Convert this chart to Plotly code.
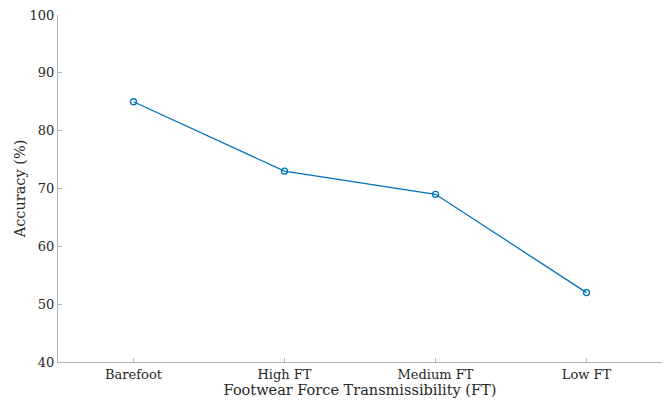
import plotly.graph_objects as go

# Accuracy per footwear condition
conditions = ["Barefoot", "High FT", "Medium FT", "Low FT"]
accuracy = [85, 73, 69, 52]

y_ticks = [40, 50, 60, 70, 80, 90, 100]

line_color = "#0072BD"
axis_color = "#b3b3b3"
text_color = "#262626"
font_family = "DejaVu Serif"

fig = go.Figure(
    go.Scatter(
        x=list(range(len(conditions))),
        y=accuracy,
        mode="lines+markers",
        line=dict(color=line_color, width=1.3),
        marker=dict(symbol="circle-open", size=6, color=line_color,
                    line=dict(width=1.3, color=line_color)),
        showlegend=False,
    )
)

fig.update_layout(
    width=665,
    height=400,
    margin=dict(l=58, r=3, t=15, b=38),
    paper_bgcolor="white",
    plot_bgcolor="white",
    font=dict(family=font_family, size=13, color=text_color),
)

fig.update_xaxes(
    range=[-0.5, 3.5],
    tickmode="array",
    tickvals=list(range(len(conditions))),
    ticktext=conditions,
    showline=True,
    linecolor=axis_color,
    linewidth=1,
    showgrid=False,
    zeroline=False,
    ticks="inside",
    ticklen=4,
    tickcolor=axis_color,
    tickfont=dict(family=font_family, size=13, color=text_color),
    title=dict(text="Footwear Force Transmissibility (FT)",
               font=dict(family=font_family, size=14.5, color=text_color),
               standoff=1),
)

fig.update_yaxes(
    range=[40, 100],
    tickmode="array",
    tickvals=y_ticks,
    showline=True,
    linecolor=axis_color,
    linewidth=1,
    showgrid=False,
    zeroline=False,
    ticks="inside",
    ticklen=4,
    tickcolor=axis_color,
    tickfont=dict(family=font_family, size=13, color=text_color),
    title=dict(text="Accuracy (%)",
               font=dict(family=font_family, size=14.5, color=text_color),
               standoff=0),
)

fig.write_html("out.html")
